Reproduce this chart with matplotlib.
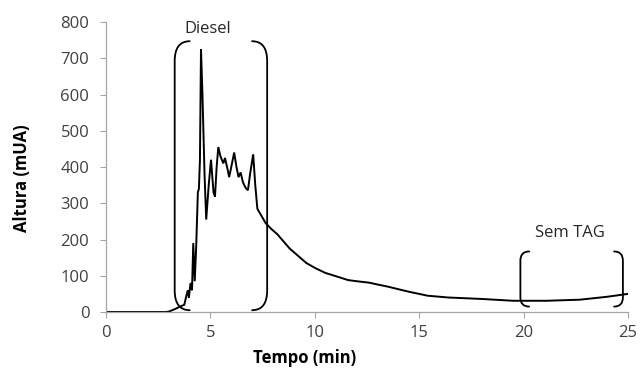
import matplotlib
matplotlib.use("Agg")
import matplotlib.pyplot as plt
from matplotlib.path import Path
from matplotlib.patches import PathPatch

plt.rcParams['font.family'] = ['Open Sans', 'DejaVu Sans']

# Chromatogram data (time in min, height in mUA)
tempo = [0, 2.9, 3.05, 3.3, 3.55, 3.75, 3.85, 3.92, 3.97, 4.05, 4.12, 4.18, 4.25,
         4.32, 4.4, 4.45, 4.5, 4.55, 4.62, 4.72, 4.8, 4.92, 5.03, 5.15, 5.22, 5.3,
         5.38, 5.48, 5.55, 5.62, 5.7, 5.8, 5.9, 6.0, 6.14, 6.25, 6.35, 6.45, 6.55,
         6.62, 6.72, 6.8, 6.9, 7.05, 7.15, 7.25, 7.45, 7.65, 7.9, 8.2, 8.44, 8.8,
         9.24, 9.6, 10.03, 10.5, 11.0, 11.6, 12.0, 12.6, 13.0, 13.5, 14.0, 14.5,
         15.0, 15.4, 16.4, 18.0, 19.5, 21.1, 22.7, 24.0, 25.0]
altura = [0, 0, 2, 8, 15, 20, 45, 60, 40, 80, 60, 190, 85,
          180, 330, 340, 420, 725, 600, 380, 255, 350, 420, 330, 318, 400,
          455, 430, 420, 410, 425, 400, 372, 400, 440, 400, 372, 385, 360,
          350, 340, 336, 380, 435, 350, 285, 265, 245, 230, 215, 199, 175,
          153, 135, 121, 108, 99, 88, 85, 81, 76, 70, 63, 56,
          50, 45, 40, 36, 31, 31, 34, 42, 50]

x_ticks = [0, 5, 10, 15, 20, 25]
y_ticks = [0, 100, 200, 300, 400, 500, 600, 700, 800]

# Bracket regions: (left x, right x, bottom y, top y, tip dx, corner dy)
diesel_box = (3.29, 7.72, 5, 747, 0.72, 55)
semtag_box = (19.85, 24.76, 15, 167, 0.42, 25)

fig = plt.figure(figsize=(6.44, 3.71), dpi=100)
ax = fig.add_axes([0.1646, 0.159, 0.975 - 0.1646, 0.9407 - 0.159])

ax.plot(tempo, altura, color='black', lw=1.4, solid_joinstyle='miter')

ax.set_xlim(0, 25)
ax.set_ylim(0, 800)
ax.set_xticks(x_ticks)
ax.set_yticks(y_ticks)
for s in ['top', 'right']:
    ax.spines[s].set_visible(False)
for s in ['left', 'bottom']:
    ax.spines[s].set_color('#a6a6a6')
    ax.spines[s].set_linewidth(0.9)
ax.tick_params(axis='both', direction='out', length=4, color='#a6a6a6',
               labelsize=12, labelcolor='#404040')
ax.tick_params(axis='y', pad=8)
ax.tick_params(axis='x', pad=5)

ax.set_xlabel('Tempo (min)', fontsize=12, fontweight='bold', color='black')
ax.set_ylabel('Altura (mUA)', fontsize=12, fontweight='bold', color='black')
ax.xaxis.set_label_coords(0.381, -0.128)
ax.yaxis.set_label_coords(-0.143, 0.462)


def bracket(x_v, x_tip, y0, y1, dy):
    verts = [(x_tip, y1), (x_v, y1), (x_v, y1 - dy),
             (x_v, y0 + dy),
             (x_v, y0), (x_tip, y0)]
    codes = [Path.MOVETO, Path.CURVE3, Path.CURVE3,
             Path.LINETO,
             Path.CURVE3, Path.CURVE3]
    p = PathPatch(Path(verts, codes), fill=False, edgecolor='black', lw=1.3,
                  capstyle='round')
    ax.add_patch(p)


for (xl, xr, y0, y1, dx, dy) in [diesel_box, semtag_box]:
    bracket(xl, xl + dx, y0, y1, dy)
    bracket(xr, xr - dx, y0, y1, dy)

ax.text(4.86, 780, 'Diesel', ha='center', va='center', fontsize=12, color='#262626')
ax.text(22.2, 219, 'Sem TAG', ha='center', va='center', fontsize=12, color='#262626')

fig.savefig('out.png', dpi=100)
